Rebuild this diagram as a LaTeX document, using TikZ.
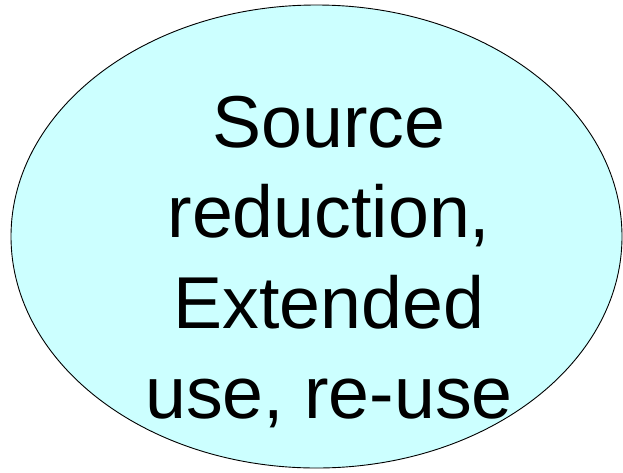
\documentclass[tikz,border=0pt]{standalone}
\usepackage{fontspec}
\setmainfont{Liberation Sans}
\usetikzlibrary{shapes.geometric}
\definecolor{bubblecyan}{HTML}{CCFFFF}
\tikzset{
  bubble/.style={
    ellipse, draw=black, fill=bubblecyan, line width=0.9pt,
    minimum width=611pt, minimum height=463pt, inner sep=0pt
  },
  bubbletext/.style={
    align=center, inner sep=0pt,
    font=\fontsize{73.5}{90.5}\selectfont
  }
}

\begin{document}
\begin{tikzpicture}[x=1pt, y=-1pt]

% Page frame
\useasboundingbox (0,0) rectangle (623,472);

% Ellipse and its label
\node[bubble] (stage) at (316.5,236.5) {};
\node[bubbletext] (stagetext) at (329,262)
  {Source\\reduction,\\Extended\\use, re-use};

\end{tikzpicture}
\end{document}
